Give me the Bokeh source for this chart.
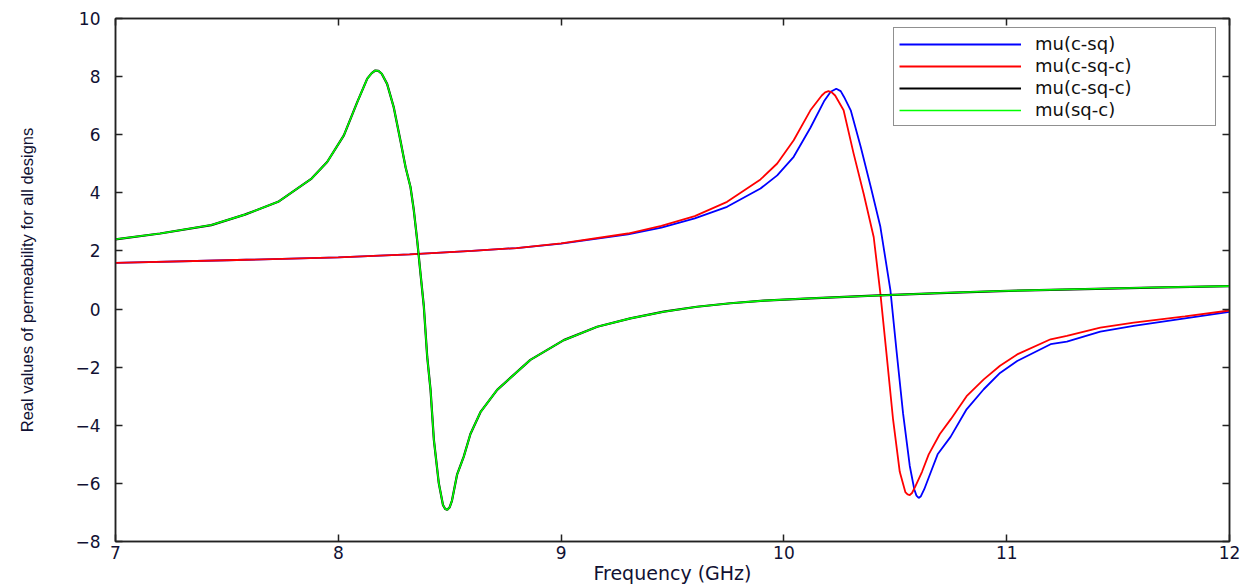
from bokeh.plotting import figure
from bokeh.models import Range1d, FixedTicker, Legend, LegendItem, LinearAxis
from bokeh.embed import file_html
from bokeh.resources import INLINE

# ---------------- data ----------------
x_ticks = [7, 8, 9, 10, 11, 12]
y_ticks = [-8, -6, -4, -2, 0, 2, 4, 6, 8, 10]

series_names = ["mu(c-sq)", "mu(c-sq-c)", "mu(c-sq-c)", "mu(sq-c)"]

freq_sq_c = [7.0, 7.2, 7.43, 7.58, 7.73, 7.88, 7.95, 8.025, 8.085, 8.13, 8.15, 8.166, 8.18,
             8.195, 8.219, 8.249, 8.279, 8.302, 8.324, 8.339, 8.354, 8.369, 8.384, 8.399,
             8.414, 8.429, 8.451, 8.47, 8.48, 8.489, 8.50, 8.51, 8.533, 8.563, 8.593,
             8.638, 8.713, 8.862, 9.012, 9.162, 9.311, 9.461, 9.61, 9.76, 9.91, 10.12,
             10.4, 10.7, 10.97, 11.3, 11.65, 12.0]
mu_sq_c = [2.40, 2.60, 2.89, 3.25, 3.69, 4.49, 5.06, 5.98, 7.12, 7.93, 8.12, 8.21, 8.20,
           8.10, 7.75, 6.94, 5.79, 4.88, 4.20, 3.40, 2.37, 1.22, 0.08, -1.64,
           -2.78, -4.50, -5.99, -6.75, -6.88, -6.91, -6.82, -6.60, -5.70, -5.08, -4.30,
           -3.55, -2.78, -1.75, -1.07, -0.61, -0.32, -0.09, 0.08, 0.20, 0.29, 0.37,
           0.46, 0.55, 0.62, 0.68, 0.74, 0.79]

# black curve (second mu(c-sq-c)) lies exactly under the green one
freq_c_sq_c_black = list(freq_sq_c)
mu_c_sq_c_black = list(mu_sq_c)

freq_c_sq_c = [7.0, 7.5, 8.0, 8.32, 8.6, 8.8, 9.0, 9.3, 9.45, 9.6, 9.745, 9.895, 9.97,
               10.044, 10.119, 10.17, 10.185, 10.20, 10.215, 10.23, 10.268, 10.313,
               10.358, 10.403, 10.433, 10.46, 10.49, 10.52, 10.545, 10.555, 10.565,
               10.575, 10.59, 10.62, 10.65, 10.70, 10.75, 10.82, 10.897, 10.97, 11.047,
               11.197, 11.27, 11.42, 11.57, 11.8, 12.0]
mu_c_sq_c = [1.59, 1.68, 1.78, 1.88, 2.00, 2.10, 2.26, 2.60, 2.86, 3.20, 3.69, 4.46, 5.01,
             5.81, 6.84, 7.35, 7.46, 7.50, 7.46, 7.35, 6.84, 5.35,
             3.97, 2.48, 0.54, -1.50, -3.80, -5.60, -6.30, -6.38, -6.40,
             -6.33, -6.10, -5.60, -5.00, -4.30, -3.78, -3.00, -2.42, -1.95, -1.56,
             -1.04, -0.92, -0.64, -0.47, -0.25, -0.05]

freq_c_sq = [7.0, 7.5, 8.0, 8.32, 8.6, 8.8, 9.0, 9.3, 9.45, 9.6, 9.745, 9.895, 9.97,
             10.044, 10.119, 10.18, 10.21, 10.235, 10.255, 10.27, 10.30, 10.345, 10.39,
             10.433, 10.478, 10.505, 10.535, 10.565, 10.585, 10.595, 10.605, 10.615,
             10.63, 10.66, 10.69, 10.748, 10.82, 10.897, 10.97, 11.047, 11.197, 11.27,
             11.42, 11.57, 11.8, 12.0]
mu_c_sq = [1.59, 1.68, 1.78, 1.88, 2.00, 2.10, 2.25, 2.57, 2.80, 3.12, 3.52, 4.15, 4.60,
           5.24, 6.24, 7.15, 7.48, 7.58, 7.50, 7.30, 6.84, 5.58, 4.20,
           2.83, 0.65, -1.40, -3.60, -5.40, -6.20, -6.42, -6.50, -6.44,
           -6.20, -5.60, -5.00, -4.40, -3.45, -2.76, -2.20, -1.79, -1.21, -1.12,
           -0.78, -0.58, -0.32, -0.10]

# ---------------- figure ----------------
TICK_FONT = "DejaVu Sans"
AX_COLOR = "#222222"
TXT_COLOR = "#111133"

p = figure(width=1250, height=586, output_backend="svg", toolbar_location=None,
           title=None, x_range=Range1d(7, 12), y_range=Range1d(-8, 10),
           min_border_left=115, min_border_right=21, min_border_top=18,
           min_border_bottom=45, background_fill_color="white",
           border_fill_color="white")

p.xgrid.visible = False
p.ygrid.visible = False
p.outline_line_color = AX_COLOR
p.outline_line_width = 1.5

xax = p.xaxis[0]
yax = p.yaxis[0]
xax.ticker = FixedTicker(ticks=x_ticks)
yax.ticker = FixedTicker(ticks=y_ticks)

# mirror axes on top and right: tick marks only (labels not painted)
ax_top = LinearAxis(ticker=FixedTicker(ticks=x_ticks), major_label_text_font_size="1px",
                    major_label_text_color=None, major_label_standoff=0)
ax_right = LinearAxis(ticker=FixedTicker(ticks=y_ticks), major_label_text_font_size="1px",
                      major_label_text_color=None, major_label_standoff=0)
p.add_layout(ax_top, "above")
p.add_layout(ax_right, "right")

for ax in [xax, yax, ax_top, ax_right]:
    ax.major_tick_in = 7
    ax.major_tick_out = 0
    ax.minor_tick_in = 0
    ax.minor_tick_out = 0
    ax.axis_line_color = AX_COLOR
    ax.axis_line_width = 1.5
    ax.major_tick_line_color = AX_COLOR
    ax.major_tick_line_width = 1.5

for ax in [xax, yax]:
    ax.major_label_text_font = TICK_FONT
    ax.major_label_text_font_size = "17px"
    ax.major_label_text_color = TXT_COLOR

xax.major_label_standoff = 4
yax.major_label_standoff = 15

xax.axis_label = "Frequency (GHz)"
xax.axis_label_text_font = TICK_FONT
xax.axis_label_text_font_size = "19px"
xax.axis_label_text_font_style = "normal"
xax.axis_label_text_color = TXT_COLOR
xax.axis_label_standoff = 0

yax.axis_label = "Real values of permeability for all designs"
yax.axis_label_text_font = "Liberation Sans"
yax.axis_label_text_font_size = "16.5px"
yax.axis_label_text_font_style = "normal"
yax.axis_label_text_color = TXT_COLOR
yax.axis_label_standoff = 36

# curves (blue, red, black, green drawn in that order)
r_blue = p.line(freq_c_sq, mu_c_sq, line_color="#0000ff", line_width=1.8)
r_red = p.line(freq_c_sq_c, mu_c_sq_c, line_color="#ff0000", line_width=1.8)
r_black = p.line(freq_c_sq_c_black, mu_c_sq_c_black, line_color="#000000", line_width=2.2)
r_green = p.line(freq_sq_c, mu_sq_c, line_color="#00ff00", line_width=1.6)

legend = Legend(items=[LegendItem(label=series_names[0], renderers=[r_blue]),
                       LegendItem(label=series_names[1], renderers=[r_red]),
                       LegendItem(label=series_names[2], renderers=[r_black]),
                       LegendItem(label=series_names[3], renderers=[r_green])],
                location=(778, 415), margin=0, padding=5, spacing=1,
                glyph_width=122, glyph_height=20, label_height=20,
                label_width=175, label_standoff=14,
                label_text_font=TICK_FONT, label_text_font_size="18px",
                label_text_color="#111111",
                border_line_color=AX_COLOR, border_line_width=1.5,
                background_fill_color="white", background_fill_alpha=1.0)
p.add_layout(legend)

open("out.html", "w").write(file_html(p, INLINE))
